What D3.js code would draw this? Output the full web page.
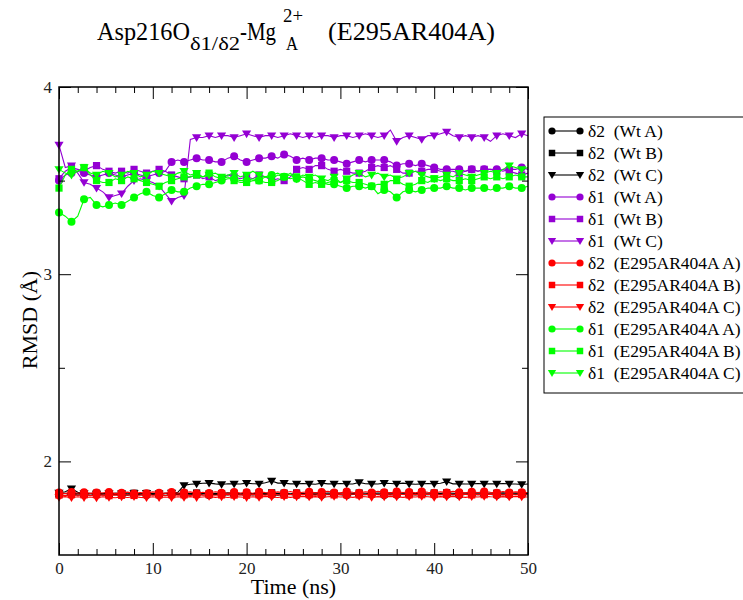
<!DOCTYPE html>
<html><head><meta charset="utf-8">
<script src="https://cdn.jsdelivr.net/npm/d3@7"></script>
<style>body{margin:0;background:#fff}</style>
</head><body>
<svg id="c" width="743" height="600"></svg>
<script>
// ---------------- DATA ----------------
const times = [0,0.67,1.33,2,2.67,3.33,4,4.67,5.33,6,
6.67,7.33,8,8.67,9.33,10,10.67,11.33,12,12.67,
13.33,14,14.67,15.33,16,16.67,17.33,18,18.67,19.33,
20,20.67,21.33,22,22.67,23.33,24,24.67,25.33,26,
26.67,27.33,28,28.67,29.33,30,30.67,31.33,32,32.67,
33.33,34,34.67,35.33,36,36.67,37.33,38,38.67,39.33,
40,40.67,41.33,42,42.67,43.33,44,44.67,45.33,46,
46.67,47.33,48,48.67,49.33,50];

const d2WtA = [1.822,1.818,1.825,1.820,1.823,1.819,1.824,1.821,1.820,1.823,
1.821,1.819,1.824,1.822,1.820,1.823,1.821,1.819,1.822,1.824,
1.823,1.821,1.825,1.822,1.820,1.824,1.823,1.821,1.825,1.822,
1.824,1.821,1.823,1.825,1.822,1.820,1.824,1.823,1.821,1.825,
1.822,1.824,1.821,1.823,1.825,1.822,1.820,1.824,1.823,1.822,
1.825,1.823,1.821,1.824,1.822,1.825,1.823,1.821,1.824,1.822,
1.823,1.825,1.822,1.824,1.821,1.823,1.825,1.822,1.824,1.823,
1.821,1.824,1.822,1.825,1.823,1.822];
const d2WtB = [1.826,1.830,1.827,1.829,1.826,1.828,1.830,1.827,1.826,1.829,
1.828,1.826,1.830,1.827,1.829,1.826,1.828,1.830,1.827,1.829,
1.830,1.828,1.831,1.829,1.827,1.830,1.828,1.832,1.829,1.827,
1.830,1.828,1.831,1.829,1.832,1.828,1.830,1.827,1.831,1.829,
1.830,1.832,1.828,1.831,1.829,1.830,1.833,1.829,1.831,1.830,
1.828,1.831,1.830,1.832,1.829,1.831,1.830,1.828,1.832,1.830,
1.831,1.829,1.832,1.830,1.828,1.831,1.830,1.832,1.829,1.831,
1.830,1.832,1.829,1.831,1.830,1.829];
const d2WtC = [1.832,1.838,1.854,1.835,1.828,1.830,1.826,1.829,1.827,1.830,
1.828,1.826,1.829,1.827,1.830,1.828,1.826,1.829,1.831,1.835,
1.872,1.878,1.880,1.883,1.884,1.880,1.877,1.881,1.880,1.879,
1.884,1.881,1.880,1.886,1.895,1.884,1.884,1.880,1.880,1.882,
1.880,1.878,1.884,1.880,1.880,1.882,1.880,1.879,1.888,1.881,
1.880,1.879,1.884,1.882,1.880,1.884,1.880,1.878,1.880,1.882,
1.880,1.883,1.892,1.880,1.880,1.879,1.880,1.882,1.880,1.881,
1.880,1.882,1.880,1.879,1.877,1.879];

const d1WtA = [3.50,3.53,3.54,3.55,3.54,3.53,3.52,3.53,3.54,3.53,
3.52,3.53,3.54,3.53,3.52,3.53,3.54,3.55,3.60,3.61,
3.60,3.61,3.62,3.61,3.61,3.60,3.60,3.62,3.63,3.61,
3.60,3.61,3.62,3.62,3.63,3.62,3.64,3.63,3.61,3.62,
3.61,3.62,3.62,3.61,3.61,3.60,3.59,3.60,3.61,3.60,
3.61,3.61,3.61,3.60,3.58,3.59,3.59,3.58,3.59,3.58,
3.57,3.56,3.56,3.56,3.56,3.55,3.56,3.55,3.56,3.56,
3.56,3.55,3.56,3.56,3.57,3.56];
const d1WtB = [3.51,3.55,3.57,3.56,3.55,3.57,3.58,3.56,3.55,3.54,
3.55,3.54,3.56,3.55,3.54,3.55,3.56,3.55,3.53,3.52,
3.51,3.52,3.53,3.51,3.52,3.50,3.51,3.53,3.52,3.51,
3.52,3.51,3.53,3.52,3.50,3.51,3.50,3.52,3.56,3.57,
3.56,3.58,3.58,3.56,3.55,3.56,3.55,3.54,3.54,3.55,
3.57,3.58,3.57,3.58,3.56,3.54,3.54,3.55,3.55,3.56,
3.56,3.55,3.55,3.55,3.54,3.55,3.56,3.55,3.56,3.56,
3.55,3.56,3.55,3.54,3.53,3.54];
const d1WtC = [3.69,3.57,3.58,3.54,3.49,3.48,3.46,3.44,3.41,3.42,
3.43,3.47,3.50,3.51,3.50,3.49,3.47,3.43,3.39,3.41,
3.42,3.72,3.73,3.73,3.74,3.73,3.74,3.74,3.73,3.74,
3.75,3.74,3.73,3.74,3.74,3.73,3.74,3.75,3.74,3.73,
3.74,3.73,3.74,3.74,3.73,3.74,3.74,3.73,3.74,3.75,
3.74,3.73,3.74,3.77,3.71,3.73,3.74,3.73,3.72,3.74,
3.74,3.75,3.76,3.74,3.73,3.74,3.73,3.74,3.73,3.71,
3.74,3.75,3.74,3.73,3.75,3.74];

const d2MutA = [1.834,1.828,1.836,1.830,1.835,1.829,1.834,1.831,1.837,1.828,
1.833,1.836,1.829,1.834,1.830,1.837,1.832,1.829,1.836,1.830,
1.834,1.837,1.830,1.835,1.831,1.838,1.833,1.830,1.837,1.831,
1.835,1.830,1.838,1.833,1.831,1.837,1.832,1.839,1.831,1.835,
1.838,1.832,1.836,1.840,1.834,1.832,1.839,1.835,1.832,1.838,
1.834,1.840,1.835,1.832,1.839,1.834,1.837,1.832,1.839,1.835,
1.832,1.838,1.834,1.840,1.835,1.832,1.838,1.834,1.839,1.835,
1.832,1.839,1.834,1.837,1.835,1.834];
const d2MutB = [1.820,1.817,1.822,1.819,1.821,1.818,1.822,1.820,1.817,1.821,
1.819,1.822,1.818,1.820,1.823,1.819,1.821,1.818,1.822,1.820,
1.821,1.818,1.823,1.820,1.822,1.819,1.821,1.824,1.820,1.822,
1.819,1.823,1.821,1.820,1.824,1.822,1.819,1.823,1.821,1.824,
1.822,1.820,1.825,1.822,1.821,1.824,1.822,1.826,1.821,1.823,
1.825,1.822,1.824,1.821,1.825,1.823,1.821,1.824,1.822,1.825,
1.823,1.821,1.824,1.822,1.825,1.823,1.821,1.824,1.822,1.825,
1.823,1.821,1.824,1.822,1.823,1.822];
const d2MutC = [1.808,1.812,1.806,1.811,1.807,1.810,1.805,1.811,1.808,1.806,
1.810,1.807,1.812,1.808,1.806,1.811,1.807,1.810,1.806,1.811,
1.808,1.812,1.807,1.810,1.813,1.808,1.811,1.807,1.812,1.810,
1.807,1.811,1.808,1.813,1.810,1.807,1.812,1.808,1.811,1.813,
1.810,1.812,1.808,1.811,1.813,1.810,1.812,1.808,1.813,1.811,
1.808,1.812,1.810,1.813,1.811,1.808,1.812,1.810,1.813,1.811,
1.808,1.812,1.810,1.813,1.811,1.808,1.812,1.810,1.813,1.811,
1.810,1.812,1.810,1.813,1.811,1.810];

const d1MutA = [3.33,3.31,3.28,3.31,3.40,3.41,3.37,3.36,3.37,3.38,
3.37,3.39,3.41,3.43,3.44,3.42,3.41,3.43,3.45,3.44,
3.44,3.46,3.47,3.48,3.48,3.49,3.50,3.51,3.51,3.50,
3.50,3.51,3.50,3.52,3.53,3.54,3.52,3.53,3.51,3.52,
3.51,3.50,3.49,3.48,3.48,3.47,3.46,3.47,3.47,3.46,
3.47,3.43,3.45,3.44,3.41,3.44,3.45,3.44,3.45,3.46,
3.46,3.46,3.47,3.46,3.46,3.45,3.46,3.46,3.46,3.45,
3.46,3.46,3.47,3.46,3.46,3.47];
const d1MutB = [3.46,3.53,3.56,3.55,3.57,3.53,3.50,3.49,3.49,3.51,
3.50,3.52,3.51,3.50,3.49,3.48,3.47,3.49,3.50,3.51,
3.52,3.52,3.53,3.52,3.54,3.52,3.51,3.52,3.50,3.49,
3.49,3.50,3.50,3.49,3.49,3.50,3.52,3.51,3.52,3.50,
3.48,3.49,3.48,3.49,3.50,3.49,3.50,3.49,3.49,3.48,
3.47,3.48,3.48,3.50,3.50,3.48,3.47,3.48,3.50,3.49,
3.51,3.50,3.51,3.50,3.50,3.51,3.50,3.51,3.52,3.51,
3.52,3.51,3.52,3.53,3.52,3.52];
const d1MutC = [3.56,3.54,3.53,3.55,3.57,3.54,3.53,3.55,3.54,3.52,
3.53,3.55,3.54,3.52,3.53,3.55,3.54,3.53,3.52,3.54,
3.55,3.53,3.54,3.52,3.53,3.54,3.52,3.53,3.54,3.52,
3.53,3.55,3.53,3.52,3.51,3.53,3.52,3.54,3.51,3.53,
3.52,3.53,3.51,3.50,3.52,3.49,3.51,3.53,3.54,3.52,
3.53,3.54,3.52,3.53,3.51,3.52,3.54,3.55,3.53,3.52,
3.51,3.52,3.53,3.52,3.54,3.53,3.52,3.53,3.54,3.55,
3.54,3.56,3.58,3.57,3.56,3.57];

const seriesLabels = ["δ2  (Wt A)","δ2  (Wt B)","δ2  (Wt C)","δ1  (Wt A)","δ1  (Wt B)","δ1  (Wt C)",
  "δ2  (E295AR404A A)","δ2  (E295AR404A B)","δ2  (E295AR404A C)","δ1  (E295AR404A A)","δ1  (E295AR404A B)","δ1  (E295AR404A C)"];
const seriesValues = [d2WtA,d2WtB,d2WtC,d1WtA,d1WtB,d1WtC,d2MutA,d2MutB,d2MutC,d1MutA,d1MutB,d1MutC];
const seriesColors = ["#000000","#000000","#000000","#9400d3","#9400d3","#9400d3","#ff0000","#ff0000","#ff0000","#00ff00","#00ff00","#00ff00"];
const seriesShapes = ["circle","square","triangle","circle","square","triangle","circle","square","triangle","circle","square","triangle"];

const xMajor = [0,10,20,30,40,50];
const xMinor = [2,4,6,8,12,14,16,18,22,24,26,28,32,34,36,38,42,44,46,48];
const yMajor = [2,3,4];
const yMinor = [2.5,3.5];

// ---------------- DRAW ----------------
const SERIF = "'Liberation Serif','Times New Roman',Times,serif";
const svg = d3.select("#c");
const L = 59, R = 528, T = 87, B = 555;
const x = d3.scaleLinear().domain([0,50]).range([L,R]);
const y = d3.scaleLinear().domain([1.5,4]).range([B,T]);

function shapePath(shape, s) {
  if (shape === "circle") return d3.symbol().type(d3.symbolCircle).size(Math.PI*s*s)();
  if (shape === "square") { const h = s*0.9; return `M${-h},${-h}H${h}V${h}H${-h}Z`; }
  const w = s*1.15, hh = s*1.0;
  return `M${-w},${-hh*0.8}L${w},${-hh*0.8}L0,${hh*1.1}Z`;
}

// series
const plot = svg.append("g");
seriesValues.forEach((vals, k) => {
  const pts = times.map((t,i) => [t, vals[i]]);
  const line = d3.line().x(d => x(d[0])).y(d => y(d[1]));
  const g = plot.append("g");
  g.append("path").attr("d", line(pts)).attr("fill","none")
    .attr("stroke", seriesColors[k]).attr("stroke-width",1.1);
  g.selectAll("path.m").data(pts.filter((d,i) => i % 2 === 0)).join("path")
    .attr("class","m")
    .attr("transform", d => `translate(${x(d[0])},${y(d[1])})`)
    .attr("d", shapePath(seriesShapes[k], 4))
    .attr("fill", seriesColors[k]);
});

// axes
function styleAxis(g){ g.select(".domain").remove(); g.selectAll("line").attr("stroke","#000").attr("stroke-width",1);
  g.selectAll("text").attr("font-family",SERIF).attr("font-size",17).attr("fill","#222"); }
svg.append("g").attr("transform",`translate(0,${B})`)
  .call(d3.axisBottom(x).tickValues(xMajor).tickSizeInner(-12).tickSizeOuter(0).tickPadding(7).tickFormat(d3.format("d"))).call(styleAxis);
svg.append("g").attr("transform",`translate(0,${B})`)
  .call(d3.axisBottom(x).tickValues(xMinor).tickSize(-6).tickFormat("")).call(styleAxis);
svg.append("g").attr("transform",`translate(0,${T})`)
  .call(d3.axisTop(x).tickValues(xMajor).tickSize(-12).tickFormat("")).call(styleAxis);
svg.append("g").attr("transform",`translate(0,${T})`)
  .call(d3.axisTop(x).tickValues(xMinor).tickSize(-6).tickFormat("")).call(styleAxis);
svg.append("g").attr("transform",`translate(${L},0)`)
  .call(d3.axisLeft(y).tickValues(yMajor).tickSizeInner(-12).tickSizeOuter(0).tickPadding(7).tickFormat(d3.format("d"))).call(styleAxis);
svg.append("g").attr("transform",`translate(${L},0)`)
  .call(d3.axisLeft(y).tickValues(yMinor).tickSize(-6).tickFormat("")).call(styleAxis);
svg.append("g").attr("transform",`translate(${R},0)`)
  .call(d3.axisRight(y).tickValues(yMajor).tickSize(-12).tickFormat("")).call(styleAxis);
svg.append("g").attr("transform",`translate(${R},0)`)
  .call(d3.axisRight(y).tickValues(yMinor).tickSize(-6).tickFormat("")).call(styleAxis);

svg.append("rect").attr("x",L).attr("y",T).attr("width",R-L).attr("height",B-T)
  .attr("fill","none").attr("stroke","#000").attr("stroke-width",1.5);

// axis titles
svg.append("text").attr("x",(L+R)/2).attr("y",594).attr("text-anchor","middle")
  .attr("font-family",SERIF).attr("font-size",22).text("Time (ns)");
svg.append("text").attr("transform","translate(37,320) rotate(-90)").attr("text-anchor","middle")
  .attr("font-family",SERIF).attr("font-size",22).text("RMSD (Å)");

// title
const tg = svg.append("g").attr("font-family",SERIF).attr("fill","#000");
function tpiece(txt, px, py, size, len) {
  tg.append("text").attr("x",px).attr("y",py).attr("font-size",size)
    .attr("textLength",len).attr("lengthAdjust","spacingAndGlyphs").text(txt);
}
tpiece("Asp216O", 97, 40, 25, 93);
tpiece("δ1/δ2", 190, 50, 18, 50);
tpiece("-Mg", 240, 40, 25, 36);
tpiece("2+", 283, 22, 18, 20);
tpiece("A", 286, 50, 18, 12);
tpiece("(E295AR404A)", 328, 40, 25, 167);

// legend
const lg = svg.append("g");
lg.append("rect").attr("x",544).attr("y",117).attr("width",230).attr("height",276)
  .attr("fill","#fff").attr("stroke","#000").attr("stroke-width",1);
seriesLabels.forEach((lab,k) => {
  const cy = 131 + 22*k;
  lg.append("line").attr("x1",552).attr("x2",580).attr("y1",cy).attr("y2",cy)
    .attr("stroke",seriesColors[k]).attr("stroke-width",1.1);
  [552,580].forEach(px => lg.append("path").attr("transform",`translate(${px},${cy})`)
    .attr("d",shapePath(seriesShapes[k],3.6)).attr("fill",seriesColors[k]));
  lg.append("text").attr("x",588).attr("y",cy+6).attr("font-family",SERIF).attr("font-size",17.5)
    .style("white-space","pre").text(lab);
});
</script>
</body></html>
